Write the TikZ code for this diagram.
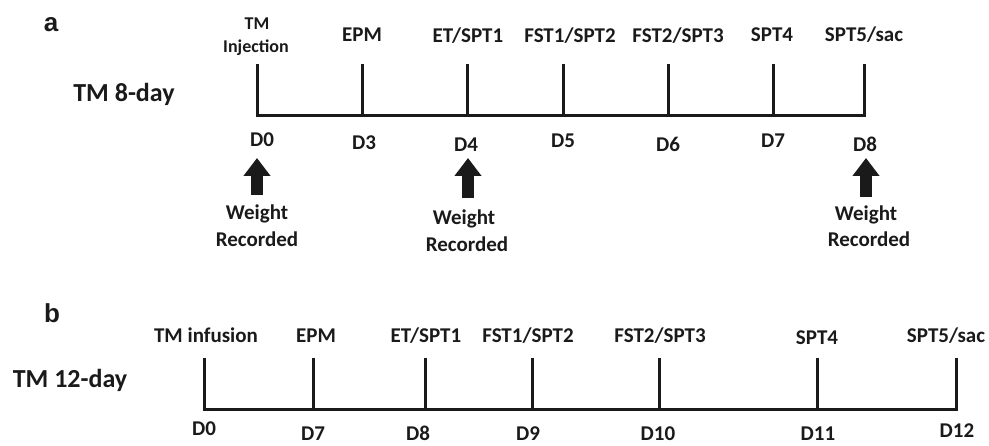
\documentclass[tikz,border=0pt]{standalone}
\usepackage{fontspec}
\setmainfont{Carlito}
\newfontfamily\panelfont{Liberation Sans}
\usetikzlibrary{arrows.meta}
\definecolor{ink}{HTML}{1A1A1A}
\begin{document}
\begin{tikzpicture}[x=1pt,y=-1pt,
  lab/.style={font=\fontsize{21}{25}\selectfont\bfseries, text=ink, inner sep=0pt, anchor=base},
  smalllab/.style={font=\fontsize{18}{22}\selectfont\bfseries, text=ink, inner sep=0pt, anchor=base},
  biglab/.style={font=\fontsize{26}{30}\selectfont\bfseries, text=ink, inner sep=0pt, anchor=base},
  panellab/.style={font=\panelfont\fontsize{26}{30}\selectfont\bfseries, text=ink, inner sep=0pt, anchor=base},
  axis/.style={line width=3pt, draw=ink},
  blockarrow/.style={line width=12pt, draw=ink, -{Triangle[width=26pt,length=18pt]}}]
\useasboundingbox (0,0) rectangle (989,446);

% ---------- panel a ----------
\node[panellab] (pa) at (51,32) {a};
\node[biglab] (ta) at (124,102) {TM 8-day};

\node[smalllab] (la0a) at (257,30) {TM};
\node[smalllab] (la0b) at (256,53) {Injection};
\node[lab] (la3) at (362,42) {EPM};
\node[lab] (la4) at (468,43) {ET/SPT1};
\node[lab] (la5) at (570,43) {FST1/SPT2};
\node[lab] (la6) at (678,43) {FST2/SPT3};
\node[lab] (la7) at (772,42) {SPT4};
\node[lab] (la8) at (864,42) {SPT5/sac};

\foreach \n/\x in {0/257,3/362,4/467,5/563,6/668,7/773,8/864}{
  \coordinate (at\n) at (\x,64);
  \coordinate (ab\n) at (\x,116);
}
\draw[axis] (at0) -- (ab0) -- (ab8) -- (at8);
\foreach \n in {3,4,5,6,7}{\draw[axis] (at\n) -- (ab\n);}

\node[lab] (da0) at (262,147) {D0};
\node[lab] (da3) at (364,150) {D3};
\node[lab] (da4) at (466,152) {D4};
\node[lab] (da5) at (563,148) {D5};
\node[lab] (da6) at (668,152) {D6};
\node[lab] (da7) at (773,148) {D7};
\node[lab] (da8) at (865,152) {D8};

\node[lab] (wa0) at (257,220) {Weight};
\node[lab] (ra0) at (257,247) {Recorded};
\node[lab] (wa4) at (464,225) {Weight};
\node[lab] (ra4) at (467,252) {Recorded};
\node[lab] (wa8) at (866,221) {Weight};
\node[lab] (ra8) at (869,247) {Recorded};

\coordinate (s0) at (257,195); \coordinate (e0) at (257,158);
\coordinate (s4) at (468,198); \coordinate (e4) at (468,158);
\coordinate (s8) at (866,197); \coordinate (e8) at (866,158);
\draw[blockarrow] (s0) -- (e0);
\draw[blockarrow] (s4) -- (e4);
\draw[blockarrow] (s8) -- (e8);

% ---------- panel b ----------
\node[panellab] (pb) at (52,323) {b};
\node[biglab] (tb) at (70,388) {TM 12-day};

\node[lab] (lb0) at (206,343) {TM infusion};
\node[lab] (lb7) at (316,343) {EPM};
\node[lab] (lb8) at (426,343) {ET/SPT1};
\node[lab] (lb9) at (528,343) {FST1/SPT2};
\node[lab] (lb10) at (660,343) {FST2/SPT3};
\node[lab] (lb11) at (817,345) {SPT4};
\node[lab] (lb12) at (946,343) {SPT5/sac};

\foreach \n/\x in {0/204,7/313,8/425,9/532,10/659,11/817,12/956}{
  \coordinate (bt\n) at (\x,358);
  \coordinate (bb\n) at (\x,410);
}
\draw[axis] (bt0) -- (bb0) -- (bb12) -- (bt12);
\foreach \n in {7,8,9,10,11}{\draw[axis] (bt\n) -- (bb\n);}

\node[lab] (db0) at (204,436) {D0};
\node[lab] (db7) at (313,441) {D7};
\node[lab] (db8) at (418,441) {D8};
\node[lab] (db9) at (528,441) {D9};
\node[lab] (db10) at (658,441) {D10};
\node[lab] (db11) at (818,441) {D11};
\node[lab] (db12) at (957,438) {D12};
\end{tikzpicture}
\end{document}
